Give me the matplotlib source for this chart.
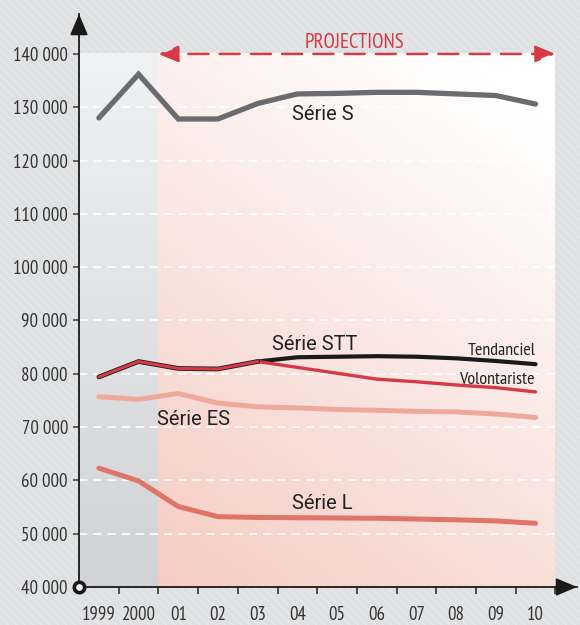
import numpy as np
import matplotlib
matplotlib.use("Agg")
import matplotlib.pyplot as plt
from matplotlib.patches import Rectangle
import matplotlib.font_manager as fm

years = ["1999", "2000", "01", "02", "03", "04", "05", "06", "07", "08", "09", "10"]
serie_s = [128000, 136200, 127800, 127800, 130700, 132500, 132600, 132800, 132800, 132500, 132200, 130600]
stt_base = [79400, 82300, 81000, 80900, 82300]
stt_tendanciel = [82300, 83100, 83200, 83300, 83200, 82900, 82400, 81800]
stt_volontariste = [82300, 81200, 80100, 79000, 78500, 77900, 77400, 76600]
serie_es = [75700, 75200, 76300, 74500, 73800, 73600, 73300, 73150, 72950, 72850, 72450, 71800]
serie_l = [62300, 59900, 55100, 53200, 53050, 53000, 52950, 52900, 52750, 52600, 52400, 51950]
yticks = [40000, 50000, 60000, 70000, 80000, 90000, 100000, 110000, 120000, 130000, 140000]

names = {f.name for f in fm.fontManager.ttflist}
narrow = next((n for n in ["PT Sans Narrow", "Roboto Condensed", "Archivo Narrow", "Roboto"] if n in names), "DejaVu Sans")
label_font = "Roboto" if "Roboto" in names else "DejaVu Sans"

plt.rcParams["hatch.linewidth"] = 1.0
fig = plt.figure(figsize=(5.8, 6.25), dpi=100)
fig.patch.set_facecolor("#dfe0e2")
fig.patches.append(Rectangle((0, 0), 1, 1, transform=fig.transFigure, facecolor="none",
                             edgecolor="#e6e7e9", hatch="\\\\\\\\", lw=0, zorder=-10))

ax = fig.add_axes([79 / 580, 38 / 625, 498 / 580, 573 / 625])
ax.set_facecolor("none")
xmin = -0.5
xmax = -0.5 + 498 / 39.7
ymin, ymax = 40000, 40000 + 573 * 187.6
ax.set_xlim(xmin, xmax)
ax.set_ylim(ymin, ymax)

# background panels
ny, nx = 200, 200
yy = np.linspace(0, 1, ny)[:, None]
xx = np.linspace(0, 1, nx)[None, :]
gtop = np.array([0.94, 0.945, 0.95])
gbot = np.array([0.82, 0.825, 0.835])
gimg = gbot[None, None, :] * (1 - yy[..., None]) + gtop[None, None, :] * yy[..., None]
gimg = np.broadcast_to(gimg, (ny, nx, 3))
ax.imshow(gimg, extent=(-0.5, 1.5, 40000, 140000), origin="lower", aspect="auto", zorder=0)
pink = np.array([0.960, 0.800, 0.765])
white = np.array([1.0, 1.0, 1.0])
t = np.clip(1 - (0.72 * yy + 0.38 * xx), 0, 1)
pimg = white[None, None, :] * (1 - t[..., None]) + pink[None, None, :] * t[..., None]
ax.imshow(pimg, extent=(1.5, len(years) - 0.5, 40000, 140000), origin="lower", aspect="auto", zorder=0)

for v in yticks[1:-1]:
    ax.plot([-0.5, len(years) - 0.5], [v, v], color="white", lw=1.2, dashes=(5, 3.5), zorder=1)

x = np.arange(len(years))
ax.plot(x, serie_s, color="#6b6c70", lw=3.8, solid_capstyle="round", solid_joinstyle="miter", zorder=3)
ax.plot(x[4:], stt_tendanciel, color="#1a1a1a", lw=3.0, solid_capstyle="round", zorder=3)
ax.plot(x[4:], stt_volontariste, color="#d63a46", lw=2.4, solid_capstyle="round", zorder=4)
ax.plot(x[:5], stt_base, color="#1a1a1a", lw=3.4, solid_capstyle="round", zorder=4)
ax.plot(x[:5], stt_base, color="#d63a46", lw=2.2, solid_capstyle="round", zorder=5)
ax.plot(x, serie_es, color="#eea99c", lw=3.6, solid_capstyle="round", zorder=3)
ax.plot(x, serie_l, color="#e07468", lw=3.6, solid_capstyle="round", zorder=3)

for s in ["top", "right"]:
    ax.spines[s].set_visible(False)
for s in ["left", "bottom"]:
    ax.spines[s].set_color("#1a1a1a")
    ax.spines[s].set_linewidth(1.3)
    ax.spines[s].set_zorder(6)

ax.set_yticks(yticks)
ax.set_yticklabels([f"{v // 1000} 000" for v in yticks], fontfamily=narrow, fontsize=13.5, color="#333333")
ax.tick_params(axis="y", length=4, width=1.3, color="#555555", pad=4)
ax.set_xticks(x)
ax.set_xticklabels(years, fontfamily=narrow, fontsize=13.5, color="#333333")
ax.tick_params(axis="x", which="major", length=0, pad=14)
ax.set_xticks(np.arange(0.5, len(years), 1), minor=True)
ax.tick_params(axis="x", which="minor", length=5, width=1.2, color="#333333", direction="out")

# axis arrow heads
ax.annotate("", xy=(-0.5, ymax), xytext=(-0.5, ymax - 4000),
            arrowprops=dict(arrowstyle="-|>,head_length=1.3,head_width=0.55", color="#1a1a1a", lw=1.3,
                            shrinkA=0, shrinkB=0),
            annotation_clip=False, zorder=7)
ax.annotate("", xy=(xmax, 40000), xytext=(xmax - 0.4, 40000),
            arrowprops=dict(arrowstyle="-|>,head_length=1.3,head_width=0.55", color="#1a1a1a", lw=1.3,
                            shrinkA=0, shrinkB=0),
            annotation_clip=False, zorder=7)
ax.plot([-0.5], [40000], marker="o", ms=7.5, mfc="#f0f0f0", mec="#1a1a1a", mew=2.6, clip_on=False, zorder=8)

# projections arrow
ax.annotate("", xy=(1.5, 140000), xytext=(len(years) - 0.5, 140000),
            arrowprops=dict(arrowstyle="<|-|>,head_length=1.2,head_width=0.5", color="#d63a46",
                            lw=1.8, linestyle=(0, (8, 4.5)), shrinkA=0, shrinkB=0),
            annotation_clip=False, zorder=7)
ax.text(6.45, 142100, "PROJECTIONS", ha="center", va="center", fontsize=15,
        fontfamily=narrow, color="#d63a46", zorder=8)

lbl = dict(fontfamily=label_font, color="#222222", zorder=9)
ax.text(5.65, 128550, "Série S", ha="center", va="center", fontsize=14.5, **lbl)
ax.text(5.44, 85400, "Série STT", ha="center", va="center", fontsize=14.5, **lbl)
ax.text(2.39, 71500, "Série ES", ha="center", va="center", fontsize=14.5, **lbl)
ax.text(5.62, 55700, "Série L", ha="center", va="center", fontsize=14.5, **lbl)
ax.text(11.0, 84300, "Tendanciel", ha="right", va="center", fontsize=13, fontfamily=narrow, color="#222222", zorder=9)
ax.text(10.97, 78830, "Volontariste", ha="right", va="center", fontsize=13, fontfamily=narrow, color="#222222", zorder=9)

fig.savefig("out.png", dpi=100, facecolor=fig.get_facecolor())
